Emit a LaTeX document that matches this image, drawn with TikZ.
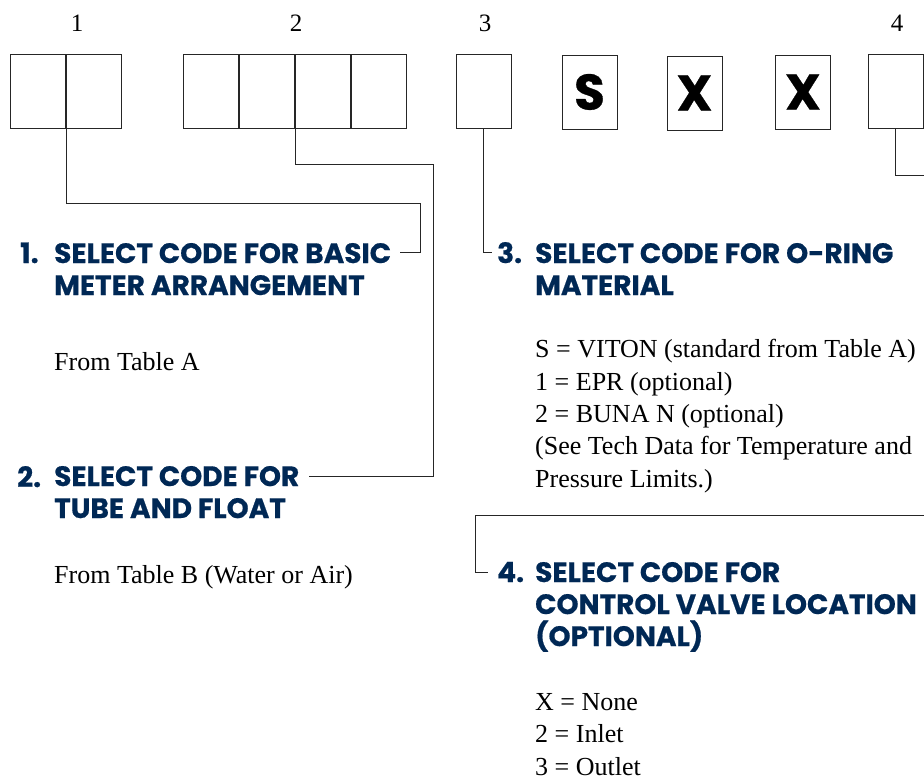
\documentclass[tikz,border=0pt]{standalone}
\usepackage{fontspec}
\setmainfont{Liberation Serif}
\newfontfamily\headfont{Poppins}[BoldFeatures={FakeBold=0.6}]
\definecolor{codeblue}{RGB}{0,40,85}
\tikzset{
  digit/.style={draw=black!85, line width=0.9pt, minimum width=55pt, minimum height=74pt, inner sep=0pt},
  lead/.style={line width=0.9pt, black!85},
  head/.style={font=\headfont\bfseries\fontsize{28}{32}\selectfont, text=codeblue, inner sep=0pt, align=left, anchor=base west},
  body/.style={font=\fontsize{26}{32.3}\selectfont, inner sep=0pt, align=left, anchor=base west},
  place/.style={font=\fontsize{25}{30}\selectfont, inner sep=0pt},
  fixed/.style={font=\headfont\bfseries\fontsize{50}{50}\selectfont}
}
\begin{document}
\begin{tikzpicture}[x=1pt,y=-1pt]
\useasboundingbox (0,0) rectangle (924,781);
\clip (0,0) rectangle (924,781);

% code boxes
\foreach \n/\x in {b1a/38,b1b/94,b2a/211,b2b/267,b2c/323,b2d/379,b3/483.5,b4/895.5}
  \node[digit] (\n) at (\x,91) {};
\node[digit,fixed] (bs) at (589.5,92) {S};
\node[digit,fixed] (bx) at (694.5,93) {X};
\node[digit,fixed] (by) at (803,92) {X};

\node[place] (p1) at (77,23) {1};
\node[place] (p2) at (296,23) {2};
\node[place] (p3) at (485,23) {3};
\node[place] (p4) at (897,23) {4};

% left column (base = last line)
\node[head] (n1) at (20,263) {1.};
\node[head] (h1) at (54,295) {SELECT CODE FOR BASIC\\METER ARRANGEMENT};
\node[body] (t1) at (54,370) {From Table A};
\node[head] (n2) at (17,487) {2.};
\node[head] (h2) at (54,518) {SELECT CODE FOR\\TUBE AND FLOAT};
\node[body] (t2) at (54,583) {From Table B (Water or Air)};

% right column
\node[head] (n3) at (497,263) {3.};
\node[head] (h3) at (535,295) {SELECT CODE FOR O-RING\\MATERIAL};
\node[body] (t3) at (535,487) {S = VITON (standard from Table A)\\1 = EPR (optional)\\2 = BUNA N (optional)\\(See Tech Data for Temperature and\\Pressure Limits.)};
\node[head] (n4) at (497,582) {4.};
\node[head] (h4) at (535,646) {SELECT CODE FOR\\CONTROL VALVE LOCATION\\(OPTIONAL)};
\node[body] (t4) at (535,775) {X = None\\2 = Inlet\\3 = Outlet};

\draw[lead,shorten >=9pt] (b1a.south east) |- ++(354,75) |- (n1.east -| h1.east);
\draw[lead,shorten >=10pt] (b2c.south west) |- ++(138,36) |- (n2.east -| h2.east);
\draw[lead,shorten >=5pt] (b3.south) |- (n3.west);
\draw[lead,shorten >=9pt] (b4.south) |- ++(60,47) |- ++(-480,340) |- (n4.west);
\end{tikzpicture}
\end{document}
